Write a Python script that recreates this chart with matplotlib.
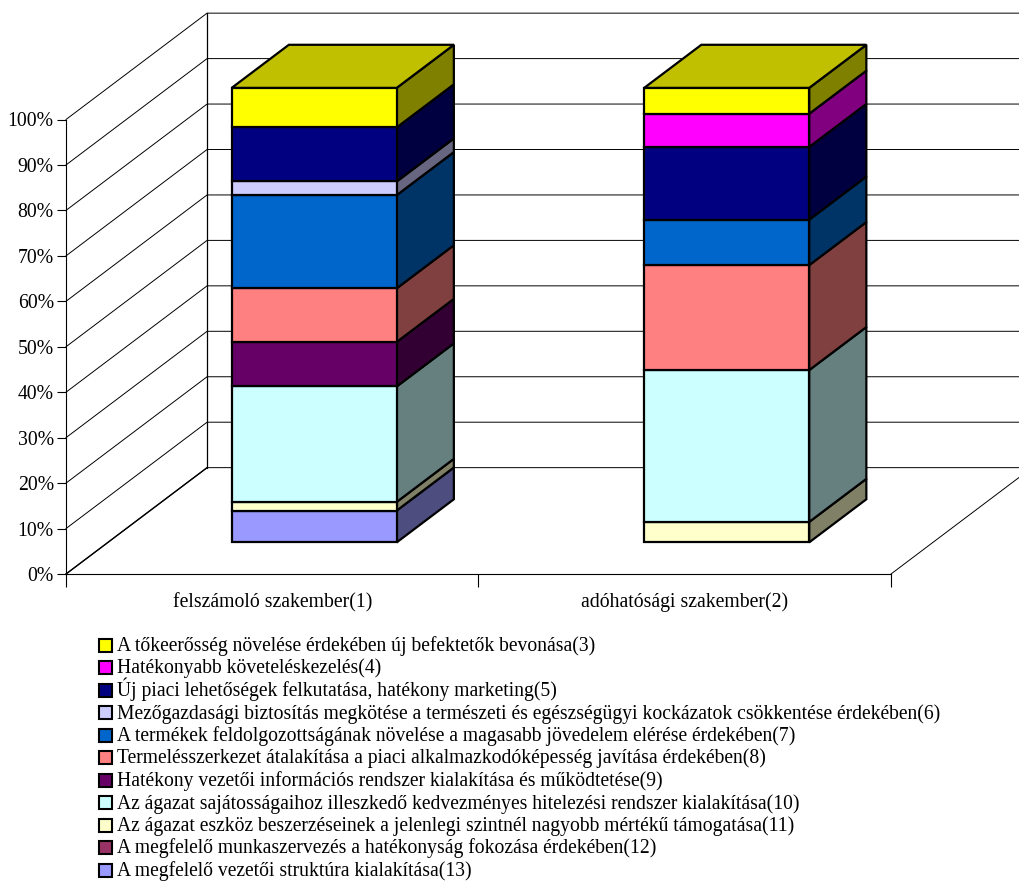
import matplotlib
matplotlib.use('Agg')
import matplotlib.pyplot as plt
from matplotlib.patches import Polygon, Rectangle

plt.rcParams['font.family'] = ['Liberation Serif', 'DejaVu Serif']

categories = ['felszámoló szakember(1)', 'adóhatósági szakember(2)']

# legend order, top to bottom
labels = [
    'A tőkeerősség növelése érdekében új befektetők bevonása(3)',
    'Hatékonyabb követeléskezelés(4)',
    'Új piaci lehetőségek felkutatása, hatékony marketing(5)',
    'Mezőgazdasági biztosítás megkötése a természeti és egészségügyi kockázatok csökkentése érdekében(6)',
    'A termékek feldolgozottságának növelése a magasabb jövedelem elérése érdekében(7)',
    'Termelésszerkezet átalakítása a piaci alkalmazkodóképesség javítása érdekében(8)',
    'Hatékony vezetői információs rendszer kialakítása és működtetése(9)',
    'Az ágazat sajátosságaihoz illeszkedő kedvezményes hitelezési rendszer kialakítása(10)',
    'Az ágazat eszköz beszerzéseinek a jelenlegi szintnél nagyobb mértékű támogatása(11)',
    'A megfelelő munkaszervezés a hatékonyság fokozása érdekében(12)',
    'A megfelelő vezetői struktúra kialakítása(13)',
]
values_1 = [8.7, 0, 11.9, 3.0, 20.5, 11.8, 9.8, 25.4, 1.9, 0, 7.0]
values_2 = [5.7, 7.3, 16.0, 0, 10.0, 23.1, 0, 33.4, 4.5, 0, 0]
colors = ['#FFFF00', '#FF00FF', '#000080', '#CCCCFF', '#0066CC', '#FF8080',
          '#660066', '#CCFFFF', '#FFFFCC', '#993366', '#9999FF']
side_colors = ['#808000', '#800080', '#000040', '#666680', '#003366', '#804040',
               '#330033', '#668080', '#808066', '#4D1A33', '#4D4D80']
top_color = '#C0C000'
yticks = [0, 10, 20, 30, 40, 50, 60, 70, 80, 90, 100]

# depth of the chart box, in data units
dx = 0.342
dy = 23.4
bar_width = 0.40
bar_depth = 0.405


def proj(x, y, d):
    # d = 0 front of the box, d = 1 back wall
    return (x + d * dx, y + d * dy)


def draw_bar(ax, center, values):
    x0 = center - bar_width / 2
    x1 = center + bar_width / 2
    d0 = (1 - bar_depth) / 2
    d1 = d0 + bar_depth
    total = sum(values)
    base = 0.0
    # stack from the bottom, i.e. reversed legend order
    for i in range(len(values) - 1, -1, -1):
        if values[i] == 0:
            continue
        top = base + values[i] * 100.0 / total
        front = [proj(x0, base, d0), proj(x1, base, d0), proj(x1, top, d0), proj(x0, top, d0)]
        side = [proj(x1, base, d0), proj(x1, base, d1), proj(x1, top, d1), proj(x1, top, d0)]
        ax.add_patch(Polygon(side, fc=side_colors[i], ec='black', lw=1.6, clip_on=False, zorder=3))
        ax.add_patch(Polygon(front, fc=colors[i], ec='black', lw=1.6, clip_on=False, zorder=3))
        base = top
    lid = [proj(x0, 100, d0), proj(x1, 100, d0), proj(x1, 100, d1), proj(x0, 100, d1)]
    ax.add_patch(Polygon(lid, fc=top_color, ec='black', lw=1.6, clip_on=False, zorder=3))


fig = plt.figure(figsize=(10.19, 8.82), dpi=100)
ax = fig.add_axes([66 / 1019, (882 - 574) / 882, (891 - 66) / 1019, (574 - 119.5) / 882])
ax.set_xlim(0, 2)
ax.set_ylim(0, 100)
for s in ['top', 'right']:
    ax.spines[s].set_visible(False)
for s in ['left', 'bottom']:
    ax.spines[s].set_linewidth(0.8)

# gridlines: left wall and back wall
for y in yticks:
    xs = [0, dx, 2 + dx]
    ys = [y, y + dy, y + dy]
    ax.plot(xs, ys, color='black', lw=0.7, clip_on=False, zorder=1)
ax.plot([dx, dx], [dy, 100 + dy], color='black', lw=0.9, clip_on=False, zorder=1)
ax.plot([2, 2 + dx], [0, dy], color='black', lw=0.7, clip_on=False, zorder=1)
ax.plot([0, dx], [0, dy], color='black', lw=1.0, clip_on=False, zorder=1)

draw_bar(ax, 0.5, values_1)
draw_bar(ax, 1.5, values_2)

ax.set_yticks(yticks)
ax.set_yticklabels(['%d%%' % y for y in yticks], fontsize=14.2)
ax.tick_params(axis='y', length=6.3, width=0.8, pad=2.5)
ax.set_xticks([0, 1, 2])
ax.set_xticklabels([])
ax.set_xticks([0.5, 1.5], minor=True)
ax.set_xticklabels(categories, minor=True, fontsize=14.2, va='baseline')
ax.tick_params(axis='x', which='major', length=9, width=0.8)
ax.tick_params(axis='x', which='minor', length=0, pad=24)

# legend rows by hand, the accents make fig.legend space them unevenly
for i in range(len(labels)):
    row_y = 651 + i * 22.5
    fig.add_artist(Rectangle((99 / 1019, 1 - (row_y + 0.5) / 882), 13 / 1019, 13 / 882,
                             fc=colors[i], ec='black', lw=1.5, transform=fig.transFigure))
    fig.text(117 / 1019, 1 - row_y / 882, labels[i], fontsize=14.15, va='baseline', ha='left')

fig.savefig('out.png', dpi=100)
